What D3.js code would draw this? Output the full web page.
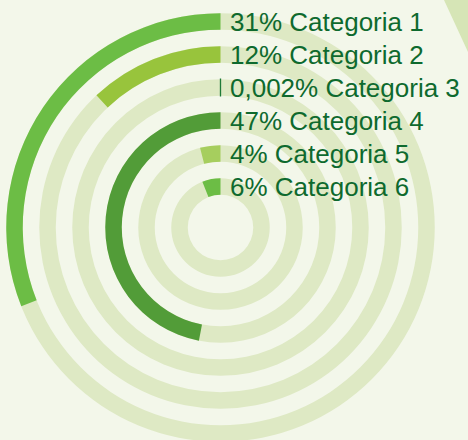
<!DOCTYPE html>
<html>
<head>
<meta charset="utf-8">
<script src="https://cdn.jsdelivr.net/npm/d3@7"></script>
<style>
  html, body { margin: 0; padding: 0; background: #f3f7ea; }
  svg { display: block; }
</style>
</head>
<body>
<svg id="chart" width="468" height="440"></svg>
<script>
const categories = ["Categoria 1", "Categoria 2", "Categoria 3", "Categoria 4", "Categoria 5", "Categoria 6"];
const values = [31, 12, 0.002, 47, 4, 6];
const valueLabels = ["31%", "12%", "0,002%", "47%", "4%", "6%"];
const colors = ["#6cbd45", "#98c43c", "#1e7a38", "#529c38", "#a6ce5e", "#6cbd45"];

const width = 468, height = 440;
const cx = 220.5, cy = 227.5;
const ringWidth = 16.5;

const svg = d3.select("#chart");

svg.append("rect")
    .attr("width", width)
    .attr("height", height)
    .attr("fill", "#f3f7ea");

// corner decoration
svg.append("path")
    .attr("d", "M444,0 L468,0 L468,52 Z")
    .attr("fill", "#d6e5b6");

const r = d3.scaleLinear()
    .domain([0, categories.length - 1])
    .range([206, 41]);

const angle = d3.scaleLinear()
    .domain([0, 100])
    .range([0, -2 * Math.PI]);

const arc = d3.arc()
    .innerRadius(d => r(d.i) - ringWidth / 2)
    .outerRadius(d => r(d.i) + ringWidth / 2)
    .startAngle(0);

const data = categories.map((c, i) => ({ i, c, v: values[i], lab: valueLabels[i], col: colors[i] }));

const g = svg.append("g")
    .attr("transform", `translate(${cx},${cy})`);

// tracks
g.selectAll("path.track")
    .data(data)
    .enter().append("path")
    .attr("class", "track")
    .attr("d", d => arc.endAngle(-2 * Math.PI)(d))
    .attr("fill", "#dee9c4");

// bars
g.selectAll("path.bar")
    .data(data)
    .enter().append("path")
    .attr("class", "bar")
    .attr("d", d => arc.endAngle(angle(d.v))(d))
    .attr("fill", d => d.col)
    .attr("stroke", d => d.v < 0.5 ? d.col : "none")
    .attr("stroke-width", 1.3);

// labels
g.selectAll("text")
    .data(data)
    .enter().append("text")
    .attr("x", 9.5)
    .attr("y", d => -r(d.i) + 9.6)
    .attr("font-family", "Liberation Sans, Arial, sans-serif")
    .attr("font-size", 26)
    .attr("fill", "#0e6a2e")
    .text(d => d.lab + " " + d.c);
</script>
</body>
</html>
